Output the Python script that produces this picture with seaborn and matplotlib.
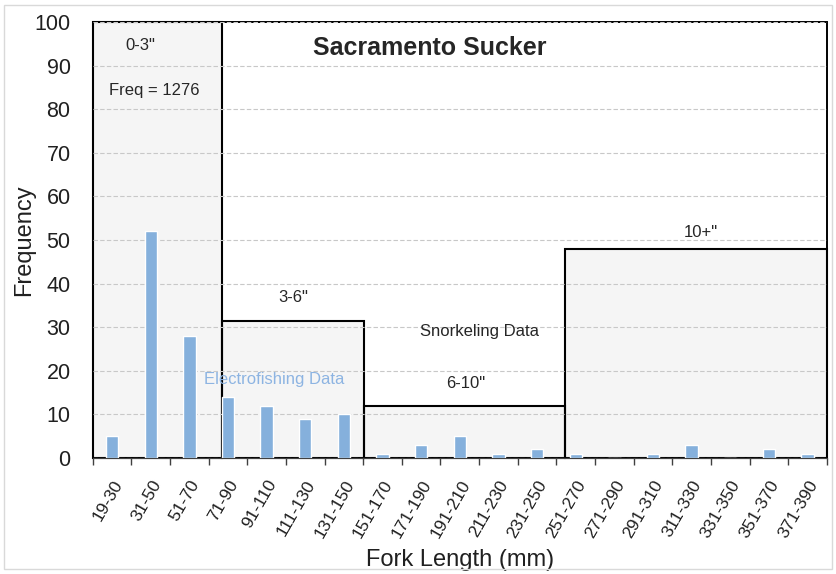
import numpy as np
import pandas as pd
import matplotlib
matplotlib.use('Agg')
import matplotlib.pyplot as plt
from matplotlib.patches import Rectangle
import seaborn as sns

# fork length classes and counts
length_bins = ['19-30', '31-50', '51-70', '71-90', '91-110', '111-130', '131-150',
               '151-170', '171-190', '191-210', '211-230', '231-250', '251-270',
               '271-290', '291-310', '311-330', '331-350', '351-370', '371-390']
counts = [5, 52, 28, 14, 12, 9, 10, 1, 3, 5, 1, 2, 1, 0, 1, 3, 0, 2, 1]

# size class boxes, in bin-index units: left edge, right edge, height, label
class_left = [-0.5, 2.84, 6.52, 11.73]
class_right = [2.84, 6.52, 11.73, 18.5]
class_height = [100, 31.5, 12, 48]
class_label = ['0-3"', '3-6"', '6-10"', '10+"']

sns.set_style('white')
plt.rcParams['font.family'] = ['Liberation Sans', 'DejaVu Sans']

df = pd.DataFrame({'bin': length_bins, 'count': counts})

fig = plt.figure(figsize=(8.36, 5.74), dpi=100)
ax = fig.add_axes([0.111, 0.2021, 0.878, 0.7596])

bar_color = '#85B0DC'
sns.barplot(data=df, x='bin', y='count', color=bar_color, saturation=1,
            width=0.32, ax=ax, zorder=3)

n = len(length_bins)
ax.set_xlim(-0.5, n - 0.5)
ax.set_ylim(0, 100)

# outer plot frame (drawn above gridlines)
ax.add_patch(Rectangle((-0.5, 0), n, 100, facecolor='white', edgecolor='none',
                       zorder=0.1))
ax.add_patch(Rectangle((-0.5, 0), n, 100, facecolor='none', edgecolor='black',
                       lw=1.4, zorder=2, clip_on=False))
# size class boxes: fill below grid, outline above grid
for l, r, h in zip(class_left, class_right, class_height):
    ax.add_patch(Rectangle((l, 0), r - l, h, facecolor='#f5f5f5',
                           edgecolor='none', zorder=0.2))
    ax.add_patch(Rectangle((l, 0), r - l, h, facecolor='none',
                           edgecolor='black', lw=1.5, zorder=2, clip_on=False))

ax.set_yticks(np.arange(0, 101, 10))
ax.yaxis.grid(True, ls=(0, (4, 2)), color='#c8c8c8', lw=0.8)
ax.set_axisbelow(False)
for gl in ax.get_ygridlines():
    gl.set_zorder(1)
ax.xaxis.grid(False)

for sp in ['top', 'right', 'left']:
    ax.spines[sp].set_visible(False)
ax.spines['bottom'].set_color('#404040')
ax.spines['bottom'].set_zorder(4)

ax.set_xticks(range(n))
ax.set_xticklabels(length_bins, rotation=60, ha='right', rotation_mode='anchor',
                   fontsize=12.5, color='#202020')
ax.set_xticks(np.arange(-0.5, n, 1), minor=True)
ax.tick_params(axis='x', which='major', length=0, pad=14)
ax.tick_params(axis='x', which='minor', length=5, width=1, color='#404040',
               direction='out', bottom=True)
ax.tick_params(axis='y', length=0, labelsize=15.5, pad=16, labelcolor='#202020')

ax.set_xlabel('Fork Length (mm)', fontsize=17, color='#202020', labelpad=6)
ax.set_ylabel('Frequency', fontsize=17, color='#202020')
ax.yaxis.set_label_coords(-0.078, 0.5)

# annotations
ax.text(0.74, 94.7, class_label[0], ha='center', va='center', fontsize=12)
ax.text(1.08, 84.2, 'Freq = 1276', ha='center', va='center', fontsize=12)
ax.text(8.23, 94, 'Sacramento Sucker', ha='center', va='center', fontsize=18,
        fontweight='bold')
ax.text(4.68, 36.7, class_label[1], ha='center', va='center', fontsize=12)
ax.text(9.5, 29.1, 'Snorkeling Data', ha='center', va='center', fontsize=12)
ax.text(9.16, 17.2, class_label[2], ha='center', va='center', fontsize=12)
ax.text(15.23, 51.8, class_label[3], ha='center', va='center', fontsize=12)
ax.text(4.2, 17.9, 'Electrofishing Data', ha='center', va='center', fontsize=12,
        color='#8DB4E2', zorder=5)

# light border around whole chart
fig.patches.append(Rectangle((0.005, 0.008), 0.99, 0.984, transform=fig.transFigure,
                             facecolor='none', edgecolor='#d9d9d9', lw=1))

fig.savefig('out.png', dpi=100)
